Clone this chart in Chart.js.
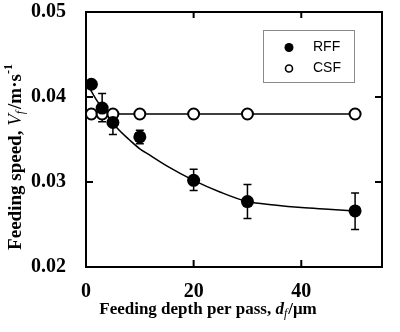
<!DOCTYPE html>
<html>
<head>
<meta charset="utf-8">
<script src="https://cdn.jsdelivr.net/npm/chart.js@4.4.1/dist/chart.umd.min.js"></script>
<style>
  html, body { margin: 0; padding: 0; background: #fff; }
  #wrap { width: 400px; height: 332px; }
</style>
</head>
<body>
<div id="wrap"><canvas id="chart-feed" width="400" height="332"></canvas></div>
<script>
// feeding speed vs feeding depth per pass

const depth = [1, 3, 5, 10, 20, 30, 50];
const rffSpeed = [0.0415, 0.0387, 0.0370, 0.0353, 0.0302, 0.0277, 0.0266];
const rffHigh = [null, 0.0404, 0.0384, 0.0361, 0.0315, 0.0297, 0.0287];
const rffLow = [null, 0.0371, 0.0356, 0.0345, 0.0290, 0.0257, 0.0244];
const csfSpeed = [0.038, 0.038, 0.038, 0.038, 0.038, 0.038, 0.038];

// fitted trend line for RFF
const fitDepth = [0, 2, 4, 6, 8, 10, 12, 15, 20, 25, 30, 35, 40, 45, 50];
const fitSpeed = [0.0418, 0.0396, 0.0378, 0.0362, 0.0350, 0.0339, 0.0331, 0.0319, 0.0302, 0.0288, 0.0277, 0.0273, 0.0270, 0.0268, 0.0266];

const xTicks = [0, 20, 40];
const yTicks = [0.02, 0.03, 0.04, 0.05];

const serif = "'Liberation Serif', 'Times New Roman', serif";
const sans = "'Liberation Sans', Arial, sans-serif";

const toXY = (xs, ys) => xs.map((x, i) => ({ x: x, y: ys[i] }));

// error bars behind the markers
const errorBars = {
  id: "errorBars",
  beforeDatasetsDraw(chart) {
    const ctx = chart.ctx;
    const xs = chart.scales.x, ys = chart.scales.y;
    ctx.save();
    ctx.strokeStyle = "#000";
    ctx.lineWidth = 1.5;
    depth.forEach((d, i) => {
      if (rffHigh[i] == null) return;
      const px = xs.getPixelForValue(d);
      const top = ys.getPixelForValue(rffHigh[i]);
      const bot = ys.getPixelForValue(rffLow[i]);
      ctx.beginPath();
      ctx.moveTo(px, top); ctx.lineTo(px, bot);
      ctx.moveTo(px - 4, top); ctx.lineTo(px + 4, top);
      ctx.moveTo(px - 4, bot); ctx.lineTo(px + 4, bot);
      ctx.stroke();
    });
    ctx.restore();
  },
};

// write a run of styled pieces; returns total width
function drawRuns(ctx, runs, x, y, measureOnly) {
  let cx = x;
  runs.forEach((r) => {
    ctx.font = r.font;
    if (!measureOnly) ctx.fillText(r.text, cx, y + (r.dy || 0));
    cx += ctx.measureText(r.text).width + (r.gap || 0);
  });
  return cx - x;
}

// frame, inward ticks, axis titles and legend
const frame = {
  id: "frame",
  afterDraw(chart) {
    const ctx = chart.ctx;
    const a = chart.chartArea;
    const xs = chart.scales.x, ys = chart.scales.y;
    ctx.save();
    ctx.strokeStyle = "#000";
    ctx.lineWidth = 2;
    ctx.strokeRect(a.left, a.top, a.right - a.left, a.bottom - a.top);

    ctx.beginPath();
    xTicks.forEach((t) => {
      const px = xs.getPixelForValue(t);
      ctx.moveTo(px, a.bottom); ctx.lineTo(px, a.bottom - 7);
      ctx.moveTo(px, a.top); ctx.lineTo(px, a.top + 6);
    });
    yTicks.forEach((t) => {
      const py = ys.getPixelForValue(t);
      ctx.moveTo(a.left, py); ctx.lineTo(a.left + 7, py);
      ctx.moveTo(a.right, py); ctx.lineTo(a.right - 7, py);
    });
    ctx.stroke();

    ctx.fillStyle = "#000";
    ctx.textBaseline = "alphabetic";
    ctx.textAlign = "left";

    // x title
    const xRuns = [
      { text: "Feeding depth per pass, ", font: "bold 17px " + serif },
      { text: "d", font: "bold italic 17px " + serif },
      { text: "f", font: "italic 12px " + serif, dy: 3, gap: 1 },
      { text: "/\u03bcm", font: "bold 17px " + serif },
    ];
    const xw = drawRuns(ctx, xRuns, 0, 0, true);
    drawRuns(ctx, xRuns, 208 - xw / 2, 314);

    // y title, rotated
    const yRuns = [
      { text: "Feeding speed, ", font: "bold 19px " + serif },
      { text: "V", font: "italic 19px " + serif },
      { text: "f", font: "italic 12px " + serif, dy: 3, gap: 2 },
      { text: "/m\u00b7s", font: "bold 19px " + serif },
      { text: "-1", font: "bold 12px " + serif, dy: -9 },
    ];
    const yw = drawRuns(ctx, yRuns, 0, 0, true);
    ctx.translate(21, 157);
    ctx.rotate(-Math.PI / 2);
    drawRuns(ctx, yRuns, -yw / 2, 0);
    ctx.setTransform(1, 0, 0, 1, 0, 0);

    // legend
    ctx.strokeStyle = "#8a8a8a";
    ctx.lineWidth = 1;
    ctx.strokeRect(263.5, 30.5, 91, 52);
    ctx.fillStyle = "#000";
    ctx.beginPath();
    ctx.arc(289, 47.5, 4.5, 0, Math.PI * 2);
    ctx.fill();
    ctx.lineWidth = 1.6;
    ctx.strokeStyle = "#000";
    ctx.beginPath();
    ctx.arc(289, 68.5, 3.5, 0, Math.PI * 2);
    ctx.stroke();
    ctx.font = "14px " + sans;
    ctx.textBaseline = "middle";
    ctx.fillText("RFF", 313, 47.5);
    ctx.fillText("CSF", 313, 68.5);
    ctx.restore();
  },
};

new Chart(document.getElementById("chart-feed").getContext("2d"), {
  type: "scatter",
  data: {
    datasets: [
      {
        label: "fit",
        data: toXY(fitDepth, fitSpeed),
        showLine: true,
        cubicInterpolationMode: "monotone",
        borderColor: "#000",
        borderWidth: 1.5,
        pointRadius: 0,
        fill: false,
        order: 3,
      },
      {
        label: "CSF",
        data: toXY(depth, csfSpeed),
        showLine: true,
        borderColor: "#000",
        borderWidth: 1.5,
        pointRadius: 5.5,
        pointBorderWidth: 2,
        pointBackgroundColor: "#fff",
        pointBorderColor: "#000",
        order: 2,
      },
      {
        label: "RFF",
        data: toXY(depth, rffSpeed),
        showLine: false,
        pointRadius: 6.5,
        pointBorderWidth: 0,
        pointBackgroundColor: "#000",
        pointBorderColor: "#000",
        order: 1,
      },
    ],
  },
  options: {
    responsive: false,
    animation: false,
    layout: { padding: { top: 12, right: 18, left: 0, bottom: 0 } },
    plugins: {
      legend: { display: false },
      tooltip: { enabled: false },
    },
    scales: {
      x: {
        type: "linear",
        min: 0,
        max: 55,
        grid: { display: false },
        border: { display: false },
        afterBuildTicks: (s) => { s.ticks = xTicks.map((v) => ({ value: v })); },
        afterFit: (s) => { s.height = 65; s.paddingLeft = 0; s.paddingRight = 0; },
        ticks: {
          color: "#000",
          padding: 5,
          maxRotation: 0,
          font: { family: serif, size: 20, weight: "bold" },
        },
      },
      y: {
        type: "linear",
        min: 0.02,
        max: 0.05,
        grid: { display: false },
        border: { display: false },
        afterBuildTicks: (s) => { s.ticks = yTicks.map((v) => ({ value: v })); },
        afterFit: (s) => { s.width = 86; s.paddingTop = 0; s.paddingBottom = 0; },
        ticks: {
          color: "#000",
          padding: 12,
          font: { family: serif, size: 20, weight: "bold" },
          callback: (v) => v.toFixed(2),
        },
      },
    },
  },
  plugins: [errorBars, frame],
});
</script>
</body>
</html>
